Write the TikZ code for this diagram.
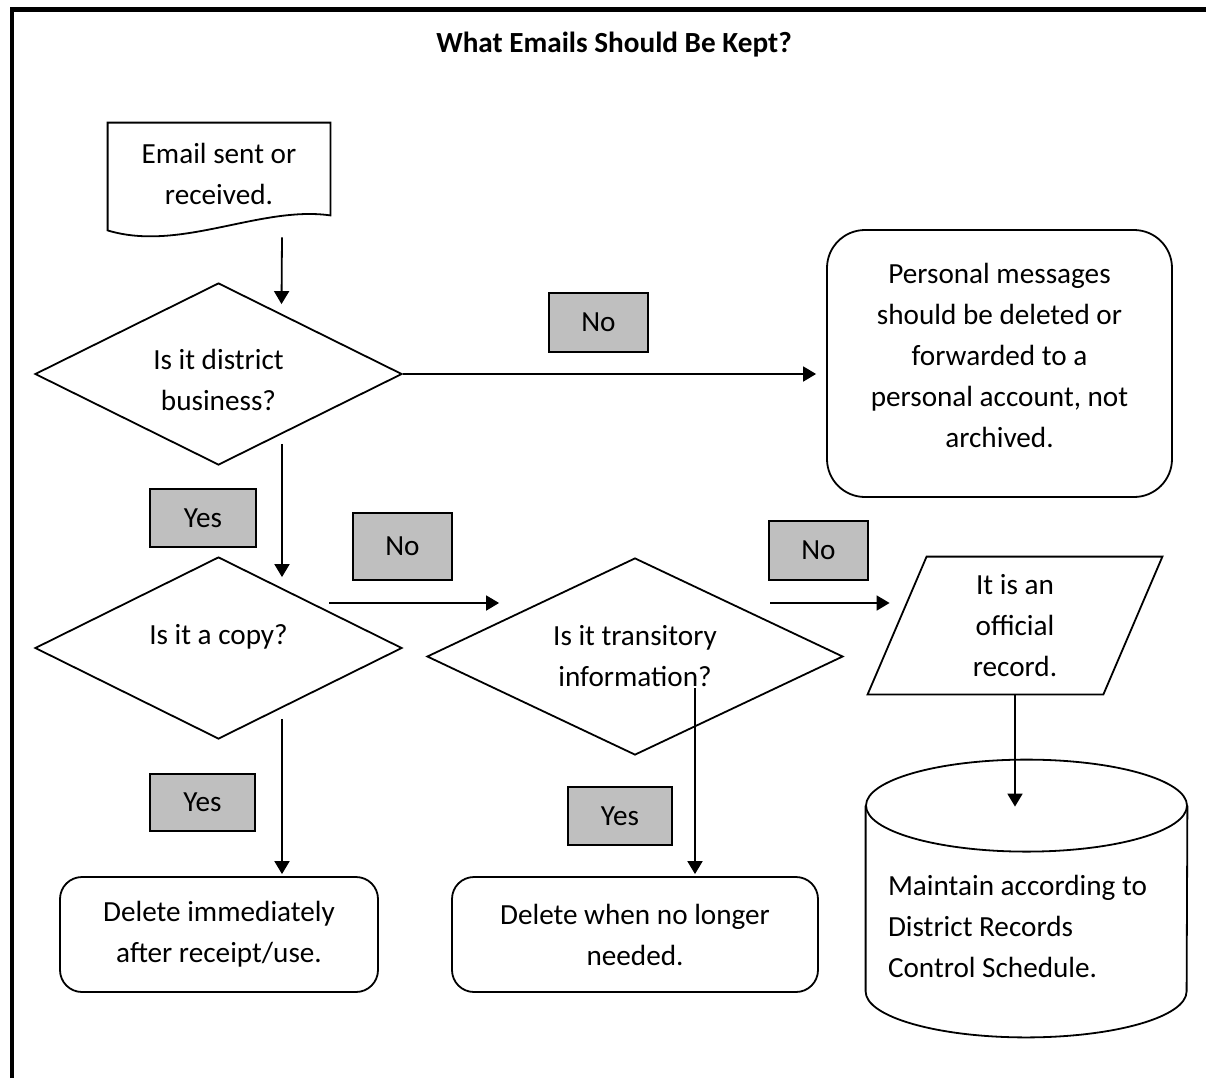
\documentclass[tikz,border=0pt]{standalone}
\usepackage{fontspec}
\setmainfont{Carlito}
\usetikzlibrary{arrows.meta,positioning,calc,shapes.geometric}
\definecolor{answerGray}{RGB}{191,191,191}
\tikzset{
  outline/.style={line width=0.9pt, line join=miter},
  textbox/.style={inner sep=0pt, align=center, font={\fontsize{14.6pt}{20.5pt}\selectfont}},
  decision/.style={diamond, draw, outline, aspect=2, textbox},
  terminal/.style={draw, outline, rounded corners=11pt, textbox},
  answer/.style={draw, outline, fill=answerGray, textbox, minimum width=49.5pt},
  arrow/.style={-{Triangle[length=6.5pt,width=7.5pt]}, line width=0.9pt}
}
\newcommand{\nudge}[3]{\raisebox{#1}[\height][\depth]{\parbox{#2}{\centering #3}}}

\begin{document}
\begin{tikzpicture}[x=0.5pt,y=-0.5pt]
  \useasboundingbox (0,0) rectangle (1206,1078);

  % Page frame
  \draw[line width=2.2pt] (11.7,1078) -- (11.7,9.3) -- (1206,9.3);

  \node[textbox, font={\fontsize{14.6pt}{20.5pt}\selectfont\bfseries}] (title) at (614,45) {What Emails Should Be Kept?};

  % Start document
  \node[textbox, minimum width=111pt, minimum height=53.5pt] (email) at (219,176.5) {\nudge{1.5pt}{100pt}{Email sent or\\received.}};
  \draw[outline] (email.south west) -- (email.north west) -- (email.north east) -- ($(email.south east)+(0,-15)$)
    .. controls ($(email.south)+(41,-25)$) and ($(email.south)+(-39,22)$) .. (email.south west) -- cycle;

  % Decisions
  \node[decision, minimum width=183.5pt, minimum height=91pt] (biz) at (218.5,374) {\nudge{-3pt}{100pt}{Is it district\\business?}};
  \node[decision, minimum width=183.5pt, minimum height=91pt] (copy) at (218.5,648) {\raisebox{5.5pt}[\height][\depth]{Is it a copy?}};
  \node[decision, minimum width=208pt, minimum height=98.5pt] (trans) at (635,656.5) {Is it transitory\\information?};

  % Outcomes
  \node[terminal, rounded corners=19pt, minimum width=172.5pt, minimum height=133.5pt] (personal) at (999.5,363.5)
    {\nudge{4pt}{160pt}{Personal messages\\should be deleted or\\forwarded to a\\personal account, not\\archived.}};
  \node[terminal, minimum width=159pt, minimum height=57.5pt] (delnow) at (219,934.5) {Delete immediately\\after receipt/use.};
  \node[terminal, minimum width=183pt, minimum height=57.5pt] (dellater) at (635,934.5) {Delete when no longer\\needed.};

  % Official record (parallelogram)
  \node[textbox, minimum width=147pt, minimum height=68.5pt] (record) at (1015,625.5) {It is an\\official\\record.};
  \draw[outline] (record.south west) -- ($(record.south east)+(-59,0)$) -- (record.north east) -- ($(record.north west)+(59,0)$) -- cycle;

  % Records schedule (cylinder)
  \node[textbox, minimum width=160.5pt, minimum height=138.5pt] (schedule) at (1026.5,898.5)
    {\raisebox{-14pt}[\height][\depth]{\parbox{138.5pt}{\raggedright Maintain according to\\District Records\\Control Schedule.}}};
  \draw[outline] ($(schedule.north west)+(0,46)$) -- ($(schedule.south west)+(0,-46)$)
    arc[start angle=180, end angle=0, x radius=160.5, y radius=46] -- ($(schedule.north east)+(0,46)$);
  \draw[outline] ($(schedule.north)+(0,46)$) ellipse [x radius=160.5, y radius=46];

  % Answer tags
  \node[answer, minimum height=29.5pt] (nobiz) at (598.5,322.5) {No};
  \node[answer, minimum width=53pt, minimum height=29pt] (yesbiz) at (203,518) {Yes};
  \node[answer, minimum height=33.5pt] (nocopy) at (402.5,546.5) {No};
  \node[answer, minimum height=29.5pt] (notrans) at (818.5,550.5) {No};
  \node[answer, minimum width=52.5pt, minimum height=28.5pt] (yescopy) at (202.5,802.5) {Yes};
  \node[answer, minimum width=52pt, minimum height=29pt] (yestrans) at (620,816) {Yes};

  % Connectors
  \draw[arrow] ($(email.south)+(63,7)$) -- ($(biz.north)+(63,22)$);
  \draw[arrow] (biz.east) -- ($(biz.east -| personal.west)+(-10,0)$);
  \draw[arrow] ($(biz.south)+(63.5,-22)$) -- ($(copy.north)+(63.5,21)$);
  \draw[arrow] ($(copy.center)+(110.5,-45)$) -- ($(trans.west)+(73,-53.5)$);
  \draw[arrow] ($(trans.center)+(135,-53.5)$) -- ($(record.west)+(22,-22.5)$);
  \draw[arrow] (record.south) -- ($(schedule.north)+(-11.5,47)$);
  \draw[arrow] ($(copy.south)+(63.5,-21)$) -- ($(delnow.north)+(63,-2)$);
  \draw[arrow] ($(trans.center)+(60,31.5)$) -- ($(dellater.north)+(60,-2)$);
\end{tikzpicture}
\end{document}
